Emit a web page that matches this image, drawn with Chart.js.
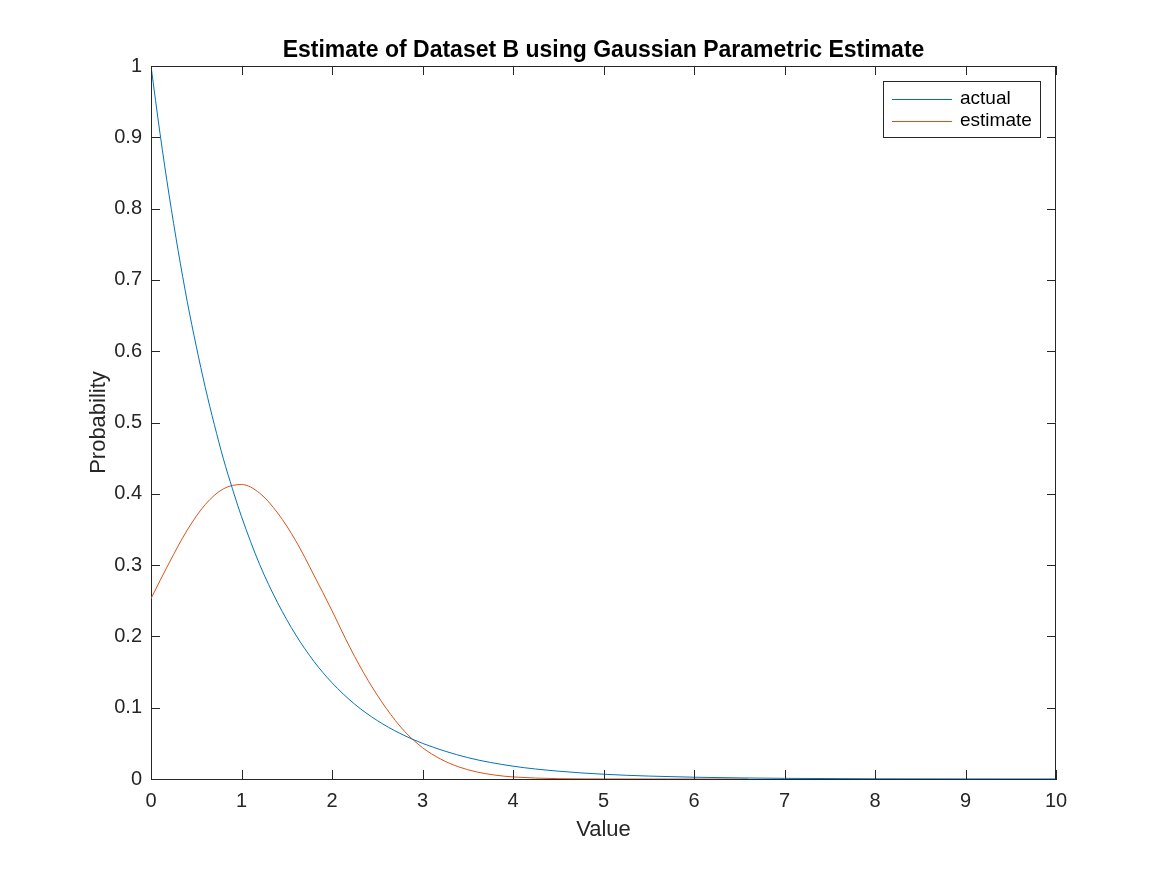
<!DOCTYPE html>
<html>
<head>
<meta charset="utf-8">
<script src="https://cdn.jsdelivr.net/npm/chart.js@4.4.0/dist/chart.umd.min.js"></script>
<style>
  html, body { margin: 0; padding: 0; background: #fff; }
</style>
</head>
<body>
<canvas id="chart" width="1167" height="875"></canvas>
<script>
// valori
var chartTitle = "Estimate of Dataset B using Gaussian Parametric Estimate";
var xLabel = "Value";
var yLabel = "Probability";
var seriesNames = ["actual", "estimate"];
var seriesColors = ["#0072BD", "#D95319"];

var actualX = [0, 0.1, 0.2, 0.3, 0.4, 0.5, 0.6, 0.7, 0.8, 0.9, 1, 1.2, 1.4, 1.6, 1.8, 2, 2.25, 2.5, 2.75, 3, 3.5, 4, 4.5, 5, 5.5, 6, 7, 8, 9, 10];
var actualY = [1.0, 0.905, 0.819, 0.741, 0.670, 0.607, 0.549, 0.497, 0.449, 0.407, 0.368, 0.301, 0.247, 0.202, 0.165, 0.135, 0.105, 0.082, 0.064, 0.050, 0.030, 0.018, 0.011, 0.0067, 0.0041, 0.0025, 0.0009, 0.0003, 0.0001, 0.00005];

var estimateX = [0, 0.2, 0.4, 0.6, 0.8, 1.0, 1.2, 1.4, 1.6, 1.8, 2.0, 2.2, 2.4, 2.6, 2.8, 3.0, 3.2, 3.4, 3.6, 3.8, 4.0, 4.5, 5.0, 5.5, 6.0, 6.6];
var estimateY = [0.253, 0.303, 0.349, 0.385, 0.407, 0.413, 0.401, 0.373, 0.334, 0.286, 0.236, 0.184, 0.138, 0.099, 0.067, 0.044, 0.028, 0.017, 0.0099, 0.0055, 0.0029, 0.0005, 0.00007, 0, 0, 0];

var xTicks = [0, 1, 2, 3, 4, 5, 6, 7, 8, 9, 10];
var yTicks = [0, 0.1, 0.2, 0.3, 0.4, 0.5, 0.6, 0.7, 0.8, 0.9, 1];

var axisColor = "#262626";
var fontFamily = "'Liberation Sans', Arial, Helvetica, sans-serif";

function toPoints(xs, ys){
    var pts = [];
    for(var i = 0; i < xs.length; i++){
        pts.push({x: xs[i], y: ys[i]});
    }
    return pts;
}

//Plugin che disegna box, tacche interne, titoli e legenda in stile MATLAB
var matlabDecor = {
    id: "matlabDecor",
    afterDraw: function(chart){
        var ctx = chart.ctx;
        var a = chart.chartArea;
        var xs = chart.scales.x;
        var ys = chart.scales.y;
        var tl = 9;

        ctx.save();
        ctx.strokeStyle = axisColor;
        ctx.lineWidth = 1;
        ctx.beginPath();
        // bordo superiore e destro
        ctx.moveTo(a.left, a.top + 0.5);
        ctx.lineTo(a.right, a.top + 0.5);
        ctx.moveTo(a.right - 0.5, a.top);
        ctx.lineTo(a.right - 0.5, a.bottom);
        xTicks.forEach(function(v){
            var px = Math.round(xs.getPixelForValue(v)) + 0.5;
            ctx.moveTo(px, a.bottom);
            ctx.lineTo(px, a.bottom - tl);
            ctx.moveTo(px, a.top);
            ctx.lineTo(px, a.top + tl);
        });
        yTicks.forEach(function(v){
            var py = Math.round(ys.getPixelForValue(v)) + 0.5;
            ctx.moveTo(a.left, py);
            ctx.lineTo(a.left + tl, py);
            ctx.moveTo(a.right, py);
            ctx.lineTo(a.right - tl, py);
        });
        ctx.stroke();

        // titolo
        ctx.fillStyle = "#000";
        ctx.font = "bold 23px " + fontFamily;
        ctx.textAlign = "center";
        ctx.textBaseline = "alphabetic";
        ctx.fillText(chartTitle, (a.left + a.right) / 2, 57);

        // etichette assi
        ctx.fillStyle = axisColor;
        ctx.font = "22px " + fontFamily;
        ctx.fillText(xLabel, (a.left + a.right) / 2, 836);
        ctx.save();
        ctx.translate(104.5, (a.top + a.bottom) / 2);
        ctx.rotate(-Math.PI / 2);
        ctx.fillText(yLabel, 0, 0);
        ctx.restore();

        // legenda
        var lx = 883, ly = 81, lw = 157, lh = 56;
        ctx.fillStyle = "#fff";
        ctx.fillRect(lx, ly, lw, lh);
        ctx.strokeStyle = axisColor;
        ctx.strokeRect(lx + 0.5, ly + 0.5, lw, lh);
        ctx.font = "19px " + fontFamily;
        ctx.textAlign = "left";
        ctx.textBaseline = "middle";
        seriesNames.forEach(function(name, i){
            var yy = ly + 18 + i * 22;
            ctx.strokeStyle = seriesColors[i];
            ctx.beginPath();
            ctx.moveTo(lx + 9, yy + 0.5);
            ctx.lineTo(lx + 69, yy + 0.5);
            ctx.stroke();
            ctx.fillStyle = "#000";
            ctx.fillText(name, lx + 77, yy);
        });
        ctx.restore();
    }
};

var ctx1 = document.getElementById("chart");

chart = new Chart(ctx1, {
    type: 'scatter',
    data: {
        datasets: [{
            label: seriesNames[0],
            data: toPoints(actualX, actualY),
            showLine: true,
            borderColor: seriesColors[0],
            borderWidth: 1,
            pointRadius: 0,
            cubicInterpolationMode: 'monotone'
        }, {
            label: seriesNames[1],
            data: toPoints(estimateX, estimateY),
            showLine: true,
            borderColor: seriesColors[1],
            borderWidth: 1,
            pointRadius: 0,
            cubicInterpolationMode: 'monotone'
        }]
    },
    options: {
        responsive: false,
        animation: false,
        devicePixelRatio: 1,
        layout: { padding: { top: 66, right: 111, left: 0, bottom: 0 } },
        plugins: {
            legend: { display: false },
            tooltip: { enabled: false }
        },
        scales: {
            x: {
                type: 'linear',
                min: 0,
                max: 10,
                afterFit: function(s){ s.height = 96; },
                afterBuildTicks: function(s){ s.ticks = xTicks.map(function(v){ return {value: v}; }); },
                grid: { display: false, drawTicks: false },
                border: { display: true, color: axisColor, width: 1 },
                ticks: {
                    color: axisColor,
                    padding: 10,
                    maxRotation: 0,
                    font: { family: fontFamily, size: 20 },
                    callback: function(v){ return String(v); }
                }
            },
            y: {
                type: 'linear',
                min: 0,
                max: 1,
                afterFit: function(s){ s.width = 151; },
                afterBuildTicks: function(s){ s.ticks = yTicks.map(function(v){ return {value: v}; }); },
                grid: { display: false, drawTicks: false },
                border: { display: true, color: axisColor, width: 1 },
                ticks: {
                    color: axisColor,
                    padding: 9,
                    font: { family: fontFamily, size: 20 },
                    callback: function(v){ return String(Math.round(v * 10) / 10); }
                }
            }
        }
    },
    plugins: [matlabDecor]
});
</script>
</body>
</html>
